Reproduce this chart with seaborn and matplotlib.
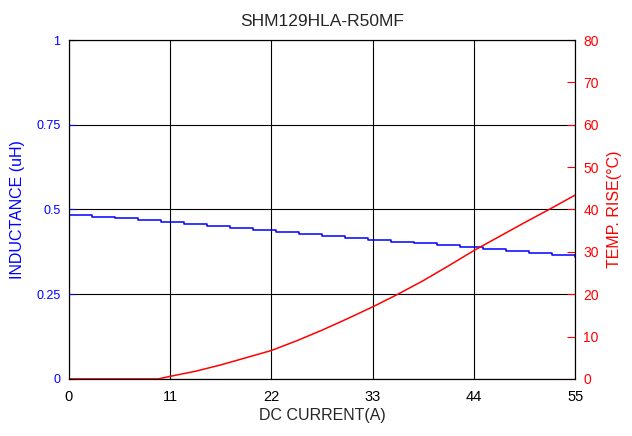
import numpy as np
import pandas as pd
import matplotlib
matplotlib.use('Agg')
import matplotlib.pyplot as plt
import seaborn as sns

# data
current_l = [0, 2.5, 5, 7.5, 10, 12.5, 15, 17.5, 20, 22.5, 25, 27.5, 30,
             32.5, 35, 37.5, 40, 42.5, 45, 47.5, 50, 52.5, 55]
inductance = [0.485, 0.479, 0.474, 0.468, 0.463, 0.457, 0.452, 0.446, 0.440,
              0.434, 0.429, 0.423, 0.417, 0.411, 0.405, 0.400, 0.394, 0.388,
              0.383, 0.377, 0.371, 0.366, 0.360]

current_t = [0, 2.5, 5, 7.5, 9.7, 11, 13.75, 16.5, 19.25, 22, 24.75, 27.5,
             30.25, 33, 35.75, 38.5, 41.25, 44, 46.75, 49.5, 52.25, 55]
temp_rise = [0, 0, 0, 0, 0, 0.6, 1.8, 3.3, 5.0, 6.7, 9.0, 11.5,
             14.2, 17.0, 20.0, 23.2, 26.7, 30.3, 33.6, 36.9, 40.1, 43.4]

x_ticks = [0, 11, 22, 33, 44, 55]
l_ticks = [0, 0.25, 0.5, 0.75, 1]
l_ticklabels = ['0', '0.25', '0.5', '0.75', '1']
t_ticks = list(range(0, 90, 10))

sns.set_style('white')
plt.rcParams['font.family'] = ['Liberation Sans', 'DejaVu Sans']

fig = plt.figure(figsize=(6.32, 4.36), dpi=100)
ax = fig.add_axes([0.109, 0.131, 0.801, 0.777])
ax2 = ax.twinx()

df_l = pd.DataFrame({'current': current_l, 'inductance': inductance})
df_t = pd.DataFrame({'current': current_t, 'temp': temp_rise})

sns.lineplot(data=df_l, x='current', y='inductance', ax=ax, color='#0000ff',
             linewidth=1.1, drawstyle='steps-post')
sns.lineplot(data=df_t, x='current', y='temp', ax=ax2, color='#ff0000',
             linewidth=1.1)

ax.set_xlim(0, 55)
ax.set_ylim(0, 1)
ax2.set_ylim(0, 80)
ax.set_xticks(x_ticks)
ax.set_yticks(l_ticks)
ax.set_yticklabels(l_ticklabels)
ax2.set_yticks(t_ticks)

ax.grid(True, color='black', linewidth=0.8)
ax.set_axisbelow(True)

for spine in list(ax.spines.values()) + list(ax2.spines.values()):
    spine.set_color('black')
    spine.set_linewidth(0.8)

ax.tick_params(axis='x', colors='black', labelsize=10.5, direction='in',
               length=4, pad=8)
ax.tick_params(axis='y', colors='#0000ff', labelsize=9, direction='in',
               length=4, pad=6)
ax2.tick_params(axis='y', colors='#ff0000', labelsize=10, direction='in',
                length=6, pad=6)

ax.set_xlabel('DC CURRENT(A)', fontsize=11.5, labelpad=3)
ax.set_ylabel('INDUCTANCE (uH)', fontsize=11.5, color='#0000ff', labelpad=8)
ax2.set_ylabel('TEMP. RISE(\u00b0C)', fontsize=11.5, color='#ff0000', labelpad=6)
ax.set_title('SHM129HLA-R50MF', fontsize=12.5, pad=10)

fig.savefig('out.png', dpi=100)
